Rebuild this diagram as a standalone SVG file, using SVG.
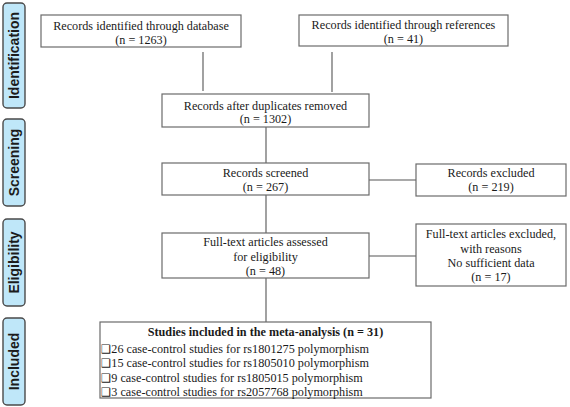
<svg xmlns="http://www.w3.org/2000/svg" width="570" height="407" viewBox="0 0 570 407">
<style>
.bg{fill:#ffffff}
.box{fill:#ffffff;stroke:#6b6b6b;stroke-width:1.2}
.side{fill:#bfe7f9;stroke:#4a4a4a;stroke-width:1.4}
.st{font-family:"Liberation Sans",Arial,sans-serif;font-weight:bold;font-size:14px;fill:#1c1c1c;text-anchor:middle}
.t{font-family:"Liberation Serif","Times New Roman",serif;font-size:12.2px;fill:#1a1a1a;text-anchor:middle}
.tl{font-family:"Liberation Serif","Times New Roman",serif;font-size:12.2px;fill:#1a1a1a}
.tb{font-family:"Liberation Serif","Times New Roman",serif;font-size:12.2px;font-weight:bold;fill:#1a1a1a;text-anchor:middle}
.sq{font-family:"DejaVu Sans",sans-serif;font-size:11.5px}
.ln{stroke:#555555;stroke-width:1.1;fill:none}
</style>
<rect class="bg" x="0" y="0" width="570" height="407"/>

<g id="stage-identification">
<rect class="side" x="3" y="3" width="22" height="105" rx="4"/>
<text class="st" transform="translate(19,55.5) rotate(-90)">Identification</text>
</g>
<g id="stage-screening">
<rect class="side" x="3" y="119" width="22" height="87" rx="4"/>
<text class="st" transform="translate(19,162.5) rotate(-90)">Screening</text>
</g>
<g id="stage-eligibility">
<rect class="side" x="3" y="219" width="22" height="87" rx="4"/>
<text class="st" transform="translate(19,262.5) rotate(-90)">Eligibility</text>
</g>
<g id="stage-included">
<rect class="side" x="3" y="318" width="22" height="87" rx="4"/>
<text class="st" transform="translate(19,361.5) rotate(-90)">Included</text>
</g>

<g id="connectors">
<line class="ln" x1="203" y1="52" x2="203" y2="91"/>
<line class="ln" x1="332" y1="52" x2="332" y2="92"/>
<line class="ln" x1="266" y1="127" x2="266" y2="163"/>
<line class="ln" x1="369" y1="180" x2="416" y2="180"/>
<line class="ln" x1="266" y1="195" x2="266" y2="233"/>
<line class="ln" x1="369" y1="256" x2="416" y2="256"/>
<line class="ln" x1="266" y1="278" x2="266" y2="322"/>
</g>

<g id="node-database">
<rect class="box" x="41" y="15" width="200" height="32"/>
<text class="t" x="141" y="30">Records identified through database</text>
<text class="t" x="141" y="44">(n = 1263)</text>
</g>
<g id="node-references">
<rect class="box" x="299" y="15" width="209" height="31"/>
<text class="t" x="403.5" y="29">Records identified through references</text>
<text class="t" x="403.5" y="43">(n = 41)</text>
</g>
<g id="node-duplicates">
<rect class="box" x="162" y="94" width="207" height="33"/>
<text class="t" x="265.5" y="110">Records after duplicates removed</text>
<text class="t" x="265.5" y="123">(n = 1302)</text>
</g>
<g id="node-screened">
<rect class="box" x="162" y="163" width="207" height="32"/>
<text class="t" x="265.5" y="177">Records screened</text>
<text class="t" x="265.5" y="191">(n = 267)</text>
</g>
<g id="node-excluded">
<rect class="box" x="416" y="164" width="150" height="32"/>
<text class="t" x="491" y="177">Records excluded</text>
<text class="t" x="491" y="191">(n = 219)</text>
</g>
<g id="node-fulltext">
<rect class="box" x="162" y="233" width="207" height="45"/>
<text class="t" x="265.5" y="246">Full-text articles assessed</text>
<text class="t" x="265.5" y="261">for eligibility</text>
<text class="t" x="265.5" y="275">(n = 48)</text>
</g>
<g id="node-fulltext-excluded">
<rect class="box" x="416" y="224" width="150" height="62"/>
<text class="t" x="491" y="238">Full-text articles excluded,</text>
<text class="t" x="491" y="253">with reasons</text>
<text class="t" x="491" y="267">No sufficient data</text>
<text class="t" x="491" y="281">(n = 17)</text>
</g>
<g id="node-included">
<rect class="box" x="100" y="322" width="331" height="76"/>
<text class="tb" x="265.5" y="336">Studies included in the meta-analysis (n = 31)</text>
<text class="tl" x="101" y="353"><tspan class="sq">❑</tspan>26 case-control studies for rs1801275 polymorphism</text>
<text class="tl" x="101" y="367"><tspan class="sq">❑</tspan>15 case-control studies for rs1805010 polymorphism</text>
<text class="tl" x="101" y="382"><tspan class="sq">❑</tspan>9 case-control studies for rs1805015 polymorphism</text>
<text class="tl" x="101" y="396"><tspan class="sq">❑</tspan>3 case-control studies for rs2057768 polymorphism</text>
</g>
</svg>
